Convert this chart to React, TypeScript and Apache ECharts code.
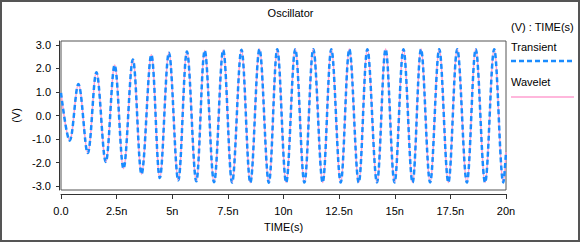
import React, { useEffect, useRef } from "react";
import * as echarts from "echarts";

// Times (ns) of the curve's turning points, plus start and end
const timeNs = [
  0, 0.39, 0.78, 1.2, 1.59, 2.01, 2.41, 2.81, 3.23, 3.62, 4.06, 4.44, 4.85, 5.27,
  5.66, 6.08, 6.46, 6.88, 7.29, 7.69, 8.11, 8.51, 8.92, 9.34, 9.72, 10.12, 10.53,
  10.94, 11.34, 11.76, 12.15, 12.57, 12.96, 13.38, 13.77, 14.2, 14.59, 14.99,
  15.39, 15.8, 16.18, 16.59, 17.0, 17.41, 17.81, 18.24, 18.64, 19.06, 19.47,
  19.88, 20.0,
];

// Voltage (V) at those points
const transientV = [
  0.96, -1.07, 1.34, -1.6, 1.84, -1.98, 2.14, -2.26, 2.38, -2.49, 2.58, -2.66,
  2.67, -2.76, 2.72, -2.8, 2.76, -2.84, 2.78, -2.85, 2.8, -2.86, 2.82, -2.86,
  2.82, -2.85, 2.82, -2.85, 2.82, -2.85, 2.82, -2.85, 2.82, -2.85, 2.82, -2.85,
  2.82, -2.85, 2.82, -2.85, 2.82, -2.85, 2.82, -2.85, 2.82, -2.85, 2.82, -2.85,
  2.82, -2.85, -1.55,
];

const waveletV = [
  0.96, -1.07, 1.35, -1.6, 1.85, -1.98, 2.15, -2.26, 2.39, -2.49, 2.59, -2.66,
  2.68, -2.76, 2.73, -2.8, 2.77, -2.84, 2.79, -2.85, 2.81, -2.86, 2.83, -2.86,
  2.83, -2.85, 2.83, -2.85, 2.83, -2.85, 2.83, -2.85, 2.83, -2.85, 2.83, -2.85,
  2.83, -2.85, 2.83, -2.85, 2.83, -2.85, 2.83, -2.85, 2.83, -2.85, 2.83, -2.85,
  2.83, -2.85, -1.55,
];

const yTickValues = [-3, -2, -1, 0, 1, 2, 3];
const xTickStep = 2.5;

const FONT = "'Liberation Sans', Arial, Helvetica, sans-serif";
const BLUE = "#1a8cff";
const PINK = "#ff9fd0";

export default function App() {
  const ref = useRef<HTMLDivElement>(null);

  useEffect(() => {
    const chart = echarts.init(ref.current!, null, { renderer: "svg" });
    chart.setOption({
      animation: false,
      backgroundColor: "#fff",
      textStyle: { fontFamily: FONT },
      title: {
        text: "Oscillator",
        left: "center",
        top: 2,
        textStyle: { fontFamily: FONT, fontSize: 11, fontWeight: "normal", color: "#000" },
      },
      grid: {
        left: 61,
        right: 75,
        top: 41,
        bottom: 53,
        show: true,
        borderColor: "#555",
        borderWidth: 1,
        backgroundColor: "transparent",
      },
      xAxis: {
        type: "value",
        min: 0,
        max: 20,
        interval: xTickStep,
        offset: 4,
        name: "TIME(s)",
        nameLocation: "middle",
        nameGap: 27,
        nameTextStyle: { fontFamily: FONT, fontSize: 11, color: "#000" },
        axisLine: { show: true, onZero: false, lineStyle: { color: "#333", width: 1 } },
        axisTick: { show: true, length: 5, lineStyle: { color: "#333" } },
        axisLabel: {
          fontFamily: FONT,
          fontSize: 11,
          color: "#000",
          margin: 11,
          formatter: (v: number) => (v === 0 ? "0.0" : `${v}n`),
        },
        splitLine: { show: false },
      },
      yAxis: {
        type: "value",
        min: -3.17,
        max: 3.17,
        offset: 2,
        name: "(V)",
        nameLocation: "middle",
        nameRotate: 90,
        nameGap: 34,
        nameTextStyle: { fontFamily: FONT, fontSize: 11, color: "#000" },
        axisLine: { show: true, onZero: false, lineStyle: { color: "#333", width: 1 } },
        axisTick: {
          show: true,
          length: 3,
          customValues: yTickValues,
          lineStyle: { color: "#333" },
        },
        axisLabel: {
          fontFamily: FONT,
          fontSize: 11,
          color: "#000",
          margin: 8,
          customValues: yTickValues,
          formatter: (v: number) => v.toFixed(1),
        },
        splitLine: { show: false },
      },
      series: [
        {
          name: "Wavelet",
          type: "line",
          data: timeNs.map((t, i) => [t, waveletV[i]]),
          smooth: 0.36,
          symbol: "none",
          lineStyle: { color: PINK, width: 1.5 },
        },
        {
          name: "Transient",
          type: "line",
          data: timeNs.map((t, i) => [t, transientV[i]]),
          smooth: 0.36,
          symbol: "none",
          lineStyle: { color: BLUE, width: 2.5, type: [5, 3] },
        },
      ],
      graphic: [
        {
          type: "rect",
          shape: { x: 1, y: 1, width: 578, height: 240 },
          style: { fill: "none", stroke: "#555", lineWidth: 2 },
          silent: true,
        },
        {
          type: "text",
          x: 511,
          y: 27,
          style: { text: "(V) : TIME(s)", fontFamily: FONT, fontSize: 11, fill: "#000", verticalAlign: "middle" },
        },
        {
          type: "text",
          x: 511,
          y: 47,
          style: { text: "Transient", fontFamily: FONT, fontSize: 11, fill: "#000", verticalAlign: "middle" },
        },
        {
          type: "line",
          shape: { x1: 511, y1: 61, x2: 574, y2: 61 },
          style: { stroke: BLUE, lineWidth: 2.5, lineDash: [5, 3] },
        },
        {
          type: "text",
          x: 511,
          y: 82,
          style: { text: "Wavelet", fontFamily: FONT, fontSize: 11, fill: "#000", verticalAlign: "middle" },
        },
        {
          type: "line",
          shape: { x1: 511, y1: 97, x2: 574, y2: 97 },
          style: { stroke: PINK, lineWidth: 1.5 },
        },
      ],
    });
    return () => chart.dispose();
  }, []);

  return (
    <div
      ref={ref}
      style={{ position: "fixed", left: 0, top: 0, width: 581, height: 243, background: "#fff" }}
    />
  );
}
